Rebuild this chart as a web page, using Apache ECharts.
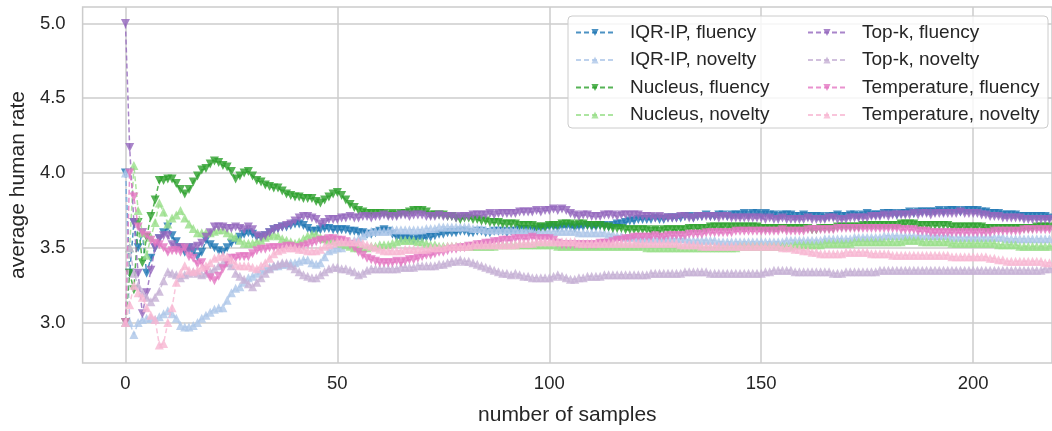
<!DOCTYPE html>
<html>
<head>
<meta charset="utf-8">
<script src="https://cdn.jsdelivr.net/npm/echarts@6/dist/echarts.min.js"></script>
<style>html,body{margin:0;padding:0;background:#fff}#c{width:1052px;height:431px}</style>
</head>
<body>
<div id="c"></div>
<script>
const seriesNames = ['IQR-IP, fluency','IQR-IP, novelty','Nucleus, fluency','Nucleus, novelty','Top-k, fluency','Top-k, novelty','Temperature, fluency','Temperature, novelty'];
const xTicks = [0, 50, 100, 150, 200];
const yTicks = [3.0, 3.5, 4.0, 4.5, 5.0];

const iqrFluency = [
4.00,3.33,3.67,3.50,3.60,3.33,3.43,3.50,3.56,3.60, 3.64,3.58,3.54,3.50,3.47,3.50,3.47,3.44,3.47,3.55,
3.52,3.50,3.48,3.47,3.50,3.53,3.55,3.57,3.59,3.60, 3.59,3.57,3.57,3.58,3.60,3.62,3.63,3.64,3.64,3.65,
3.66,3.66,3.65,3.63,3.61,3.61,3.62,3.63,3.63,3.62, 3.62,3.62,3.62,3.61,3.61,3.60,3.60,3.59,3.59,3.60,
3.61,3.62,3.61,3.59,3.57,3.56,3.56,3.56,3.55,3.56, 3.56,3.57,3.57,3.58,3.59,3.59,3.60,3.60,3.60,3.61,
3.61,3.60,3.60,3.61,3.61,3.60,3.60,3.61,3.61,3.61, 3.60,3.61,3.61,3.62,3.62,3.62,3.61,3.62,3.63,3.63,
3.64,3.64,3.63,3.64,3.64,3.64,3.63,3.64,3.64,3.65, 3.64,3.64,3.65,3.65,3.64,3.65,3.66,3.66,3.67,3.68,
3.68,3.69,3.69,3.69,3.69,3.70,3.69,3.69,3.70,3.70, 3.70,3.70,3.71,3.71,3.70,3.71,3.71,3.72,3.71,3.71,
3.72,3.72,3.71,3.72,3.72,3.72,3.73,3.72,3.73,3.73, 3.72,3.73,3.72,3.72,3.71,3.72,3.72,3.72,3.71,3.71,
3.72,3.71,3.71,3.71,3.71,3.70,3.71,3.71,3.72,3.71, 3.71,3.72,3.72,3.71,3.72,3.73,3.72,3.72,3.72,3.73,
3.73,3.73,3.72,3.73,3.73,3.74,3.73,3.74,3.74,3.74, 3.74,3.74,3.75,3.74,3.75,3.75,3.75,3.74,3.75,3.75,
3.75,3.75,3.74,3.74,3.73,3.73,3.73,3.72,3.72,3.72, 3.72,3.71,3.71,3.71,3.71,3.71,3.71,3.71,3.70,3.71
];
const iqrNovelty = [
4.00,3.00,2.92,3.00,3.02,3.03,3.03,3.02,3.04,3.06, 3.08,3.06,3.03,2.98,2.97,2.97,2.98,3.00,3.03,3.05,
3.07,3.09,3.10,3.10,3.15,3.20,3.23,3.24,3.27,3.30, 3.31,3.33,3.35,3.36,3.37,3.38,3.38,3.39,3.39,3.40,
3.40,3.41,3.42,3.42,3.40,3.39,3.40,3.44,3.48,3.49, 3.50,3.50,3.52,3.54,3.55,3.56,3.58,3.60,3.61,3.61,
3.61,3.61,3.61,3.62,3.62,3.62,3.62,3.62,3.62,3.62, 3.62,3.63,3.63,3.63,3.64,3.64,3.64,3.64,3.64,3.64,
3.64,3.64,3.63,3.63,3.63,3.62,3.62,3.62,3.62,3.62, 3.62,3.62,3.62,3.62,3.62,3.62,3.61,3.61,3.61,3.61,
3.61,3.61,3.61,3.61,3.61,3.61,3.61,3.60,3.60,3.60, 3.60,3.60,3.60,3.60,3.59,3.59,3.58,3.58,3.57,3.57,
3.57,3.56,3.56,3.56,3.56,3.56,3.56,3.56,3.56,3.56, 3.56,3.56,3.56,3.55,3.55,3.55,3.55,3.55,3.55,3.55,
3.54,3.54,3.54,3.54,3.54,3.54,3.54,3.54,3.54,3.54, 3.54,3.54,3.54,3.54,3.54,3.54,3.55,3.55,3.55,3.55,
3.55,3.55,3.55,3.55,3.55,3.56,3.56,3.56,3.56,3.56, 3.56,3.56,3.57,3.57,3.57,3.57,3.57,3.57,3.57,3.58,
3.58,3.58,3.58,3.58,3.58,3.58,3.58,3.58,3.58,3.58, 3.58,3.58,3.58,3.58,3.58,3.57,3.57,3.57,3.57,3.57,
3.57,3.57,3.57,3.57,3.57,3.57,3.57,3.57,3.56,3.56, 3.56,3.56,3.56,3.56,3.56,3.56,3.56,3.56,3.56,3.56
];
const nucleusFluency = [
3.00,3.33,3.22,3.67,3.40,3.57,3.71,3.82,3.95,3.95, 3.96,3.96,3.93,3.89,3.86,3.89,3.94,3.98,4.02,4.03,
4.06,4.08,4.07,4.05,4.04,4.01,3.96,3.98,4.00,4.01, 3.98,3.95,3.94,3.92,3.91,3.90,3.90,3.88,3.86,3.85,
3.84,3.84,3.83,3.83,3.83,3.81,3.80,3.82,3.84,3.86, 3.87,3.85,3.82,3.79,3.77,3.75,3.74,3.73,3.73,3.73,
3.73,3.73,3.72,3.73,3.72,3.73,3.73,3.74,3.75,3.75, 3.75,3.74,3.72,3.72,3.72,3.72,3.71,3.71,3.70,3.69,
3.70,3.70,3.69,3.69,3.68,3.68,3.67,3.67,3.67,3.66, 3.66,3.66,3.66,3.65,3.65,3.65,3.65,3.64,3.64,3.64,
3.65,3.65,3.65,3.66,3.66,3.66,3.65,3.66,3.66,3.65, 3.65,3.65,3.65,3.64,3.64,3.63,3.63,3.63,3.62,3.62,
3.62,3.62,3.62,3.62,3.61,3.62,3.61,3.62,3.62,3.62, 3.62,3.62,3.62,3.63,3.63,3.63,3.63,3.63,3.64,3.64,
3.64,3.64,3.64,3.64,3.64,3.64,3.64,3.64,3.64,3.64, 3.63,3.63,3.63,3.63,3.63,3.63,3.63,3.63,3.63,3.63,
3.63,3.63,3.62,3.62,3.63,3.63,3.63,3.63,3.64,3.64, 3.64,3.64,3.64,3.64,3.65,3.65,3.65,3.65,3.65,3.65,
3.65,3.65,3.65,3.66,3.66,3.66,3.66,3.65,3.65,3.65, 3.65,3.65,3.65,3.65,3.65,3.64,3.64,3.64,3.64,3.64,
3.64,3.64,3.64,3.63,3.63,3.63,3.63,3.63,3.63,3.63, 3.63,3.63,3.63,3.63,3.63,3.64,3.64,3.64,3.64,3.64
];
const nucleusNovelty = [
3.00,3.50,4.05,3.75,3.60,3.45,3.57,3.67,3.80,3.74, 3.66,3.70,3.72,3.75,3.70,3.66,3.63,3.60,3.60,3.60,
3.60,3.61,3.62,3.62,3.60,3.58,3.57,3.55,3.53,3.53, 3.53,3.54,3.55,3.57,3.58,3.59,3.58,3.56,3.55,3.54,
3.53,3.54,3.56,3.58,3.59,3.59,3.57,3.56,3.55,3.55, 3.54,3.53,3.52,3.51,3.50,3.50,3.50,3.50,3.51,3.51,
3.52,3.52,3.52,3.53,3.54,3.55,3.55,3.55,3.55,3.54, 3.54,3.53,3.52,3.52,3.51,3.51,3.51,3.51,3.51,3.51,
3.51,3.51,3.51,3.51,3.51,3.51,3.51,3.51,3.52,3.52, 3.52,3.52,3.52,3.52,3.52,3.52,3.52,3.52,3.52,3.52,
3.52,3.52,3.51,3.51,3.51,3.51,3.51,3.51,3.51,3.51, 3.51,3.51,3.51,3.51,3.51,3.51,3.51,3.51,3.51,3.51,
3.51,3.51,3.51,3.50,3.50,3.50,3.50,3.50,3.50,3.50, 3.50,3.50,3.50,3.50,3.50,3.50,3.50,3.50,3.50,3.50,
3.50,3.50,3.50,3.50,3.50,3.51,3.51,3.51,3.51,3.51, 3.51,3.51,3.51,3.51,3.51,3.51,3.51,3.51,3.52,3.52,
3.52,3.52,3.52,3.52,3.52,3.53,3.53,3.53,3.53,3.53, 3.53,3.53,3.54,3.54,3.54,3.54,3.54,3.54,3.54,3.54,
3.54,3.54,3.54,3.54,3.55,3.55,3.55,3.55,3.54,3.54, 3.54,3.54,3.54,3.54,3.54,3.53,3.53,3.53,3.53,3.53,
3.53,3.53,3.53,3.53,3.53,3.53,3.52,3.52,3.52,3.52, 3.52,3.51,3.51,3.51,3.51,3.51,3.51,3.51,3.51,3.51
];
const topkFluency = [
5.00,4.17,3.67,3.33,3.06,3.20,3.35,3.50,3.56,3.58, 3.58,3.52,3.50,3.50,3.49,3.48,3.50,3.51,3.53,3.57,
3.60,3.64,3.64,3.64,3.63,3.63,3.64,3.63,3.62,3.64, 3.62,3.58,3.57,3.58,3.60,3.62,3.63,3.64,3.65,3.66,
3.68,3.70,3.71,3.71,3.70,3.69,3.66,3.67,3.69,3.69, 3.69,3.70,3.70,3.71,3.70,3.70,3.71,3.71,3.70,3.71,
3.71,3.72,3.71,3.71,3.71,3.72,3.72,3.71,3.72,3.72, 3.72,3.71,3.71,3.71,3.72,3.71,3.71,3.71,3.70,3.71,
3.71,3.71,3.72,3.72,3.72,3.72,3.73,3.72,3.73,3.73, 3.73,3.73,3.73,3.74,3.74,3.74,3.74,3.75,3.74,3.75,
3.75,3.76,3.75,3.76,3.75,3.73,3.72,3.71,3.72,3.72, 3.71,3.71,3.71,3.72,3.72,3.72,3.71,3.72,3.72,3.72,
3.72,3.72,3.71,3.71,3.71,3.70,3.71,3.70,3.70,3.70, 3.70,3.71,3.71,3.70,3.70,3.71,3.71,3.71,3.71,3.71,
3.70,3.71,3.71,3.70,3.70,3.70,3.70,3.70,3.70,3.70, 3.70,3.69,3.70,3.69,3.69,3.70,3.69,3.69,3.69,3.69,
3.69,3.70,3.69,3.69,3.69,3.69,3.70,3.70,3.69,3.69, 3.69,3.70,3.70,3.70,3.70,3.70,3.71,3.71,3.71,3.72,
3.71,3.72,3.72,3.72,3.72,3.72,3.73,3.72,3.73,3.73, 3.72,3.73,3.73,3.73,3.73,3.73,3.73,3.74,3.73,3.73,
3.73,3.73,3.72,3.72,3.71,3.71,3.71,3.70,3.70,3.70, 3.70,3.70,3.69,3.69,3.69,3.69,3.69,3.69,3.69,3.69
];
const topkNovelty = [
3.00,3.50,3.33,3.25,3.20,3.17,3.14,3.17,3.21,3.28, 3.34,3.33,3.32,3.30,3.32,3.33,3.34,3.33,3.32,3.33,
3.34,3.36,3.38,3.40,3.40,3.38,3.33,3.31,3.29,3.26, 3.24,3.27,3.30,3.33,3.36,3.38,3.39,3.40,3.40,3.38,
3.36,3.34,3.32,3.31,3.30,3.30,3.32,3.34,3.36,3.37, 3.37,3.36,3.36,3.35,3.34,3.32,3.33,3.35,3.36,3.36,
3.36,3.36,3.36,3.36,3.36,3.37,3.37,3.37,3.37,3.38, 3.38,3.38,3.38,3.38,3.39,3.39,3.40,3.41,3.41,3.42,
3.41,3.41,3.40,3.39,3.38,3.37,3.36,3.35,3.34,3.33, 3.33,3.32,3.33,3.32,3.31,3.31,3.30,3.30,3.30,3.30,
3.30,3.31,3.32,3.31,3.30,3.29,3.29,3.30,3.30,3.31, 3.31,3.31,3.31,3.32,3.32,3.32,3.32,3.32,3.32,3.32,
3.32,3.32,3.32,3.32,3.33,3.33,3.33,3.33,3.33,3.33, 3.33,3.33,3.34,3.34,3.34,3.34,3.34,3.34,3.33,3.33,
3.33,3.33,3.33,3.33,3.33,3.33,3.33,3.33,3.33,3.33, 3.33,3.34,3.34,3.35,3.35,3.35,3.35,3.35,3.34,3.34,
3.34,3.34,3.34,3.34,3.34,3.34,3.34,3.33,3.33,3.33, 3.34,3.34,3.34,3.34,3.34,3.34,3.34,3.34,3.35,3.35,
3.35,3.35,3.35,3.35,3.35,3.35,3.35,3.35,3.35,3.35, 3.35,3.35,3.35,3.35,3.35,3.35,3.35,3.35,3.35,3.35,
3.35,3.35,3.35,3.35,3.35,3.35,3.35,3.35,3.35,3.35, 3.35,3.35,3.35,3.35,3.35,3.35,3.35,3.36,3.36,3.36
];
const tempFluency = [
3.00,4.00,3.84,3.64,3.60,3.58,3.55,3.53,3.52,3.50, 3.47,3.48,3.48,3.47,3.50,3.44,3.43,3.39,3.40,3.35,
3.30,3.28,3.31,3.36,3.40,3.43,3.43,3.44,3.44,3.44, 3.46,3.48,3.49,3.49,3.50,3.50,3.50,3.50,3.51,3.51,
3.50,3.50,3.51,3.52,3.53,3.54,3.55,3.55,3.56,3.56, 3.55,3.55,3.54,3.52,3.50,3.47,3.45,3.43,3.42,3.41,
3.40,3.40,3.40,3.40,3.41,3.40,3.41,3.42,3.42,3.43, 3.44,3.45,3.45,3.46,3.47,3.47,3.48,3.49,3.49,3.50,
3.50,3.51,3.51,3.52,3.52,3.53,3.53,3.54,3.54,3.55, 3.55,3.55,3.56,3.56,3.56,3.56,3.57,3.56,3.56,3.56,
3.56,3.55,3.53,3.52,3.52,3.52,3.52,3.52,3.52,3.52, 3.52,3.52,3.53,3.53,3.53,3.54,3.55,3.55,3.56,3.56,
3.57,3.57,3.57,3.57,3.57,3.58,3.57,3.57,3.58,3.58, 3.58,3.58,3.58,3.59,3.59,3.59,3.59,3.60,3.60,3.60,
3.60,3.60,3.60,3.60,3.61,3.61,3.61,3.61,3.61,3.61, 3.61,3.61,3.61,3.61,3.61,3.62,3.61,3.61,3.61,3.61,
3.61,3.62,3.62,3.62,3.62,3.62,3.62,3.62,3.63,3.63, 3.63,3.63,3.63,3.63,3.63,3.63,3.63,3.63,3.63,3.63,
3.63,3.63,3.63,3.62,3.62,3.62,3.62,3.61,3.61,3.61, 3.60,3.60,3.60,3.60,3.60,3.60,3.60,3.60,3.60,3.60,
3.60,3.60,3.60,3.60,3.60,3.61,3.61,3.61,3.61,3.61, 3.61,3.61,3.62,3.62,3.62,3.62,3.62,3.62,3.62,3.62
];
const tempNovelty = [
3.00,3.12,3.25,3.20,3.17,3.10,3.05,3.02,2.85,2.86, 3.00,3.10,3.27,3.33,3.38,3.35,3.34,3.35,3.37,3.38,
3.40,3.43,3.44,3.45,3.44,3.42,3.39,3.38,3.38,3.38, 3.37,3.36,3.38,3.40,3.43,3.46,3.48,3.49,3.50,3.50,
3.50,3.49,3.49,3.48,3.48,3.48,3.49,3.51,3.52,3.53, 3.54,3.54,3.54,3.54,3.54,3.54,3.53,3.52,3.51,3.50,
3.49,3.48,3.48,3.48,3.48,3.48,3.49,3.49,3.49,3.49, 3.49,3.49,3.50,3.50,3.50,3.50,3.51,3.51,3.51,3.51,
3.51,3.51,3.52,3.52,3.52,3.52,3.52,3.52,3.52,3.52, 3.52,3.52,3.52,3.53,3.53,3.53,3.53,3.54,3.54,3.54,
3.54,3.54,3.54,3.54,3.54,3.54,3.54,3.53,3.53,3.53, 3.53,3.53,3.53,3.53,3.53,3.53,3.53,3.53,3.53,3.53,
3.53,3.53,3.53,3.53,3.53,3.53,3.53,3.53,3.53,3.53, 3.53,3.52,3.52,3.52,3.52,3.52,3.51,3.51,3.51,3.51,
3.51,3.51,3.51,3.51,3.51,3.51,3.51,3.51,3.51,3.51, 3.51,3.51,3.51,3.51,3.51,3.50,3.50,3.50,3.49,3.49,
3.48,3.48,3.47,3.47,3.46,3.46,3.46,3.46,3.46,3.46, 3.47,3.47,3.47,3.47,3.47,3.47,3.46,3.46,3.46,3.46,
3.46,3.45,3.45,3.45,3.45,3.45,3.45,3.45,3.45,3.45, 3.45,3.45,3.45,3.45,3.45,3.44,3.44,3.44,3.44,3.44,
3.44,3.44,3.44,3.44,3.43,3.43,3.42,3.42,3.41,3.41, 3.41,3.41,3.41,3.41,3.41,3.41,3.41,3.40,3.40,3.40
];

const allValues = [iqrFluency, iqrNovelty, nucleusFluency, nucleusNovelty, topkFluency, topkNovelty, tempFluency, tempNovelty];
const colors = ['#1f77b4','#aec7e8','#2ca02c','#98df8a','#9467bd','#c5b0d5','#e377c2','#f7b6d2'];
const FONT = "'Liberation Sans', Arial, sans-serif";
const TXT = '#262626';

const series = allValues.map((vals, k) => {
  const fluency = k % 2 === 0;
  return {
    name: seriesNames[k],
    type: 'line',
    data: vals.map((v, i) => [i, v]),
    symbol: 'triangle',
    symbolRotate: fluency ? 180 : 0,
    symbolSize: 9,
    showSymbol: true,
    animation: false,
    color: colors[k],
    lineStyle: { type: [5, 3], width: 1.5, opacity: 0.8, color: colors[k] },
    itemStyle: { color: colors[k], opacity: 0.8 },
    emphasis: { disabled: true },
    z: 2 + k * 0.01
  };
});

const legendCommon = {
  orient: 'vertical', top: 18, itemWidth: 38, itemHeight: 9, itemGap: 8.5, z: 60, selectedMode: false,
  textStyle: { fontSize: 19, color: TXT, fontFamily: FONT, padding: [0, 0, 0, 11] }
};

const chart = echarts.init(document.getElementById('c'), null, { renderer: 'canvas' });
chart.setOption({
  backgroundColor: '#ffffff',
  animation: false,
  textStyle: { fontFamily: FONT },
  grid: { left: 80, right: 0, top: 7, bottom: 63, show: true, borderColor: '#cccccc', borderWidth: 1.5, backgroundColor: 'transparent' },
  xAxis: {
    type: 'value', min: -10.1, max: 218.6,
    name: 'number of samples', nameLocation: 'middle', nameGap: 42,
    nameTextStyle: { fontSize: 21, color: TXT, fontFamily: FONT },
    axisLine: { show: false }, axisTick: { show: false, customValues: xTicks },
    axisLabel: { customValues: xTicks, fontSize: 18.5, color: TXT, margin: 11, fontFamily: FONT },
    splitLine: { show: true, lineStyle: { color: '#cccccc', width: 1.5 } }
  },
  yAxis: {
    type: 'value', min: 2.73, max: 5.11,
    name: 'average human rate', nameLocation: 'middle', nameGap: 51,
    nameTextStyle: { fontSize: 21, color: TXT, fontFamily: FONT },
    axisLine: { show: false }, axisTick: { show: false, customValues: yTicks },
    axisLabel: { customValues: yTicks, fontSize: 18.5, color: TXT, margin: 17, fontFamily: FONT, formatter: v => v.toFixed(1) },
    splitLine: { show: true, lineStyle: { color: '#cccccc', width: 1.5 } }
  },
  graphic: [{
    type: 'rect', z: 50, silent: true,
    shape: { x: 568, y: 16, width: 480, height: 112, r: 4 },
    style: { fill: 'rgba(255,255,255,0.8)', stroke: '#cccccc', lineWidth: 1 }
  }],
  legend: [
    Object.assign({ data: seriesNames.slice(0, 4), left: 570 }, legendCommon),
    Object.assign({ data: seriesNames.slice(4, 8), left: 802 }, legendCommon)
  ],
  series: series
});
</script>
</body>
</html>
